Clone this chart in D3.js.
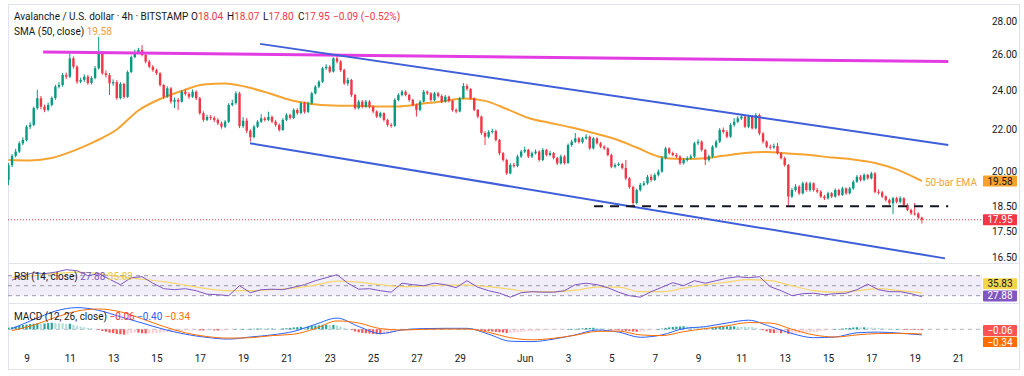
<!DOCTYPE html>
<html>
<head>
<meta charset="utf-8">
<script src="https://cdn.jsdelivr.net/npm/d3@7"></script>
<style>
  body { margin: 0; background: #fff; }
  svg { display: block; font-family: Roboto, "Open Sans", sans-serif; }
</style>
</head>
<body>
<svg id="chart" width="1024" height="376"></svg>
<script>
// ---- data (AVAX/USD, 4h candles, first bar 8 May 04:00 UTC) ----
const opens = [
  19.62,20.29,20.72,20.92,21.31,21.47,22.12,22.21,23.06,23.58,
  23.14,22.97,23.23,23.59,24.20,24.29,24.84,24.75,25.79,25.31,
  24.47,24.57,24.75,24.40,24.68,25.22,26.08,24.94,24.84,24.38,
  24.45,23.59,24.35,23.65,25.01,25.86,26.16,26.28,25.98,25.60,
  25.31,25.12,24.94,24.29,23.66,24.11,23.40,23.49,23.40,23.93,
  23.81,23.66,23.93,23.58,22.80,22.46,22.61,22.56,22.46,22.29,
  22.12,22.37,23.23,23.33,23.84,22.15,22.42,21.92,21.61,22.12,
  22.37,22.54,22.46,22.61,22.37,22.21,21.96,22.46,22.71,22.56,
  22.97,22.81,23.32,22.87,23.32,23.84,24.20,24.47,25.22,25.31,
  25.03,25.79,25.60,25.12,24.38,24.57,23.75,23.06,23.40,23.14,
  23.40,23.14,22.89,22.63,22.80,22.46,22.21,22.17,23.49,23.75,
  23.93,23.75,23.49,23.23,22.97,23.40,23.93,23.84,23.49,23.84,
  23.70,23.40,23.66,23.44,22.97,22.89,23.58,24.24,24.08,23.58,
  22.97,22.63,21.81,21.63,21.86,21.91,21.47,20.84,20.53,19.92,
  20.30,20.25,20.69,20.92,21.00,20.69,20.84,20.92,20.53,21.00,
  20.76,20.85,20.62,20.37,20.69,20.39,21.23,21.39,21.55,21.37,
  21.55,21.63,21.07,21.55,21.31,21.15,21.07,20.76,20.22,20.30,
  20.34,20.16,19.70,19.32,18.64,19.19,19.41,19.48,19.77,19.63,
  19.85,20.00,20.61,21.07,20.85,20.76,20.69,20.38,20.53,20.61,
  20.69,21.31,21.39,21.00,20.53,20.69,21.15,21.39,21.96,21.86,
  21.63,22.21,22.37,22.54,22.63,22.12,22.63,22.04,22.71,21.79,
  21.39,21.15,21.11,21.18,20.84,20.61,20.30,18.91,19.19,19.34,
  19.05,19.48,19.19,19.48,19.19,19.12,18.91,18.84,19.05,18.91,
  19.19,18.98,19.26,19.05,19.26,19.55,19.77,19.63,19.85,19.70,
  19.92,19.11,19.09,18.91,18.77,18.63,18.84,18.69,18.84,18.56,
  18.35,18.21,18.20,18.04
];
const highs = [
  20.38,20.80,21.05,21.40,21.60,22.20,22.35,23.15,24.03,23.70,
  23.25,23.35,23.68,24.30,24.45,24.95,24.98,26.08,25.90,25.40,
  24.70,24.88,24.85,24.78,25.35,27.07,26.20,25.10,24.95,24.60,
  24.55,24.45,24.42,25.10,25.95,26.30,26.40,26.57,26.05,25.70,
  25.40,25.20,25.00,24.35,24.22,24.18,23.62,23.60,24.02,24.05,
  23.90,24.05,24.00,23.65,22.90,22.72,22.70,22.65,22.55,22.38,
  22.45,23.32,23.50,23.95,23.92,22.60,22.55,22.00,22.20,22.45,
  22.75,22.62,22.88,22.68,22.45,22.28,22.55,22.80,22.78,23.05,
  23.05,23.40,23.40,23.40,23.92,24.28,24.55,25.30,25.45,25.40,
  25.85,25.93,25.68,25.20,24.70,24.62,23.82,23.50,23.48,23.50,
  23.48,23.20,22.95,22.88,22.85,22.52,22.30,23.58,23.85,24.02,
  24.00,23.82,23.55,23.30,23.48,24.02,24.00,23.90,23.92,23.92,
  23.78,23.75,23.72,23.50,23.05,23.65,24.40,24.35,24.12,23.62,
  23.02,22.68,21.90,21.95,22.02,21.98,21.52,20.90,20.58,20.38,
  20.40,20.78,21.00,21.15,21.05,20.92,21.02,20.98,21.08,21.05,
  20.95,20.90,20.68,20.78,20.75,21.30,21.48,21.81,21.62,21.62,
  21.75,21.68,21.62,21.60,21.38,21.22,21.12,20.82,20.38,20.42,
  20.40,20.53,19.75,19.38,19.25,19.50,19.58,19.85,19.88,19.92,
  20.10,20.70,21.15,21.12,20.92,20.85,20.75,20.62,20.70,20.78,
  21.38,21.50,21.45,21.05,20.78,21.22,21.48,22.05,22.08,21.95,
  22.30,22.55,22.65,22.75,22.70,22.72,22.70,22.81,22.78,21.85,
  21.45,21.25,21.30,21.33,20.90,20.68,20.35,19.28,19.45,19.40,
  19.55,19.55,19.55,19.52,19.28,19.18,18.98,19.12,19.10,19.26,
  19.24,19.33,19.30,19.33,19.62,19.85,19.85,19.92,19.90,19.99,
  19.98,19.22,19.15,18.96,18.82,18.90,18.90,18.92,18.88,18.62,
  18.40,18.64,18.26,18.07
];
const lows = [
  19.40,20.20,20.65,20.85,21.22,21.40,22.00,22.15,22.98,23.00,
  22.85,22.90,23.15,23.50,24.10,24.20,24.62,24.68,25.20,24.35,
  24.38,24.45,24.30,24.32,24.60,25.15,24.85,24.70,23.75,24.25,
  23.50,23.52,23.55,23.60,24.95,25.80,26.05,25.90,25.50,25.22,
  25.02,24.85,24.20,23.55,23.60,23.30,23.07,22.97,23.35,23.72,
  23.55,23.60,23.48,22.72,22.37,22.40,22.45,22.35,22.20,22.02,
  22.05,22.30,23.15,23.25,22.05,22.05,21.80,21.39,21.55,22.05,
  22.30,22.38,22.40,22.30,22.12,21.88,21.92,22.40,22.48,22.50,
  22.72,22.75,22.78,22.82,23.25,23.78,24.12,24.40,25.12,24.95,
  24.98,25.50,25.02,24.30,24.25,23.65,22.98,23.00,23.05,23.08,
  23.05,22.80,22.55,22.55,22.38,22.12,22.07,22.10,23.42,23.68,
  23.68,23.40,23.15,22.63,22.90,23.35,23.75,23.40,23.42,23.62,
  23.32,23.35,23.35,22.88,22.80,22.85,23.52,23.98,23.50,22.90,
  22.55,21.72,21.23,21.55,21.78,21.40,20.75,20.45,19.85,19.88,
  20.18,20.20,20.62,20.85,20.62,20.62,20.78,20.45,20.48,20.70,
  20.70,20.55,20.30,20.32,20.32,20.35,21.15,21.32,21.30,21.30,
  21.48,21.00,21.02,21.25,21.08,21.00,20.70,20.15,20.15,20.25,
  20.10,19.62,19.25,18.52,18.58,19.12,19.35,19.42,19.55,19.58,
  19.78,19.95,20.55,20.78,20.70,20.62,20.30,20.32,20.45,20.55,
  20.62,21.22,20.92,20.30,20.45,20.62,21.08,21.32,21.78,21.55,
  21.58,22.12,22.30,22.45,22.05,22.05,21.98,21.98,21.70,21.30,
  21.08,21.02,21.05,20.78,20.55,20.22,18.49,18.85,19.12,18.98,
  19.00,19.12,19.12,19.12,19.05,18.85,18.76,18.78,18.85,18.86,
  18.92,18.94,18.98,19.00,19.20,19.50,19.56,19.58,19.64,19.65,
  19.05,19.00,18.85,18.70,18.55,18.18,18.62,18.62,18.50,18.30,
  18.15,18.12,17.98,17.80
];
const closes = [
  20.29,20.72,20.92,21.31,21.47,22.12,22.21,23.06,23.58,23.14,
  22.97,23.23,23.59,24.20,24.29,24.84,24.75,25.79,25.31,24.47,
  24.57,24.75,24.40,24.68,25.22,26.08,24.94,24.84,24.38,24.45,
  23.59,24.35,23.65,25.01,25.86,26.16,26.28,25.98,25.60,25.31,
  25.12,24.94,24.29,23.66,24.11,23.40,23.49,23.40,23.93,23.81,
  23.66,23.93,23.58,22.80,22.46,22.61,22.56,22.46,22.29,22.12,
  22.37,23.23,23.33,23.84,22.15,22.42,21.92,21.61,22.12,22.37,
  22.54,22.46,22.61,22.37,22.21,21.96,22.46,22.71,22.56,22.97,
  22.81,23.32,22.87,23.32,23.84,24.20,24.47,25.22,25.31,25.03,
  25.79,25.60,25.12,24.38,24.57,23.75,23.06,23.40,23.14,23.40,
  23.14,22.89,22.63,22.80,22.46,22.21,22.17,23.49,23.75,23.93,
  23.75,23.49,23.23,22.97,23.40,23.93,23.84,23.49,23.84,23.70,
  23.40,23.66,23.44,22.97,22.89,23.58,24.24,24.08,23.58,22.97,
  22.63,21.81,21.63,21.86,21.91,21.47,20.84,20.53,19.92,20.30,
  20.25,20.69,20.92,21.00,20.69,20.84,20.92,20.53,21.00,20.76,
  20.85,20.62,20.37,20.69,20.39,21.23,21.39,21.55,21.37,21.55,
  21.63,21.07,21.55,21.31,21.15,21.07,20.76,20.22,20.30,20.34,
  20.16,19.70,19.32,18.64,19.19,19.41,19.48,19.77,19.63,19.85,
  20.00,20.61,21.07,20.85,20.76,20.69,20.38,20.53,20.61,20.69,
  21.31,21.39,21.00,20.53,20.69,21.15,21.39,21.96,21.86,21.63,
  22.21,22.37,22.54,22.63,22.12,22.63,22.04,22.71,21.79,21.39,
  21.15,21.11,21.18,20.84,20.61,20.30,18.91,19.19,19.34,19.05,
  19.48,19.19,19.48,19.19,19.12,18.91,18.84,19.05,18.91,19.19,
  18.98,19.26,19.05,19.26,19.55,19.77,19.63,19.85,19.70,19.92,
  19.11,19.09,18.91,18.77,18.63,18.84,18.69,18.84,18.56,18.35,
  18.21,18.20,18.04,17.95
];

// 50 SMA, read once per day (bar 0, 6, 12 ... 252) plus the last bar
const smaVals = [
  20.53,20.51,20.62,20.95,21.40,21.98,22.94,23.54,23.97,24.32,
  24.38,24.18,23.86,23.49,23.28,23.20,23.18,23.15,23.15,23.28,
  23.41,23.57,23.44,23.02,22.56,22.31,22.08,21.81,21.52,21.11,
  20.69,20.57,20.60,20.72,20.85,20.90,20.83,20.76,20.64,20.55,
  20.39,20.10,19.66,19.58
];
const smaBars = d3.range(0, 253, 6).concat([253]);

// RSI(14) every 3 bars (bar 1, 4, 7 ... 253), its MA every 6 bars (bar 1, 7 ... 253)
const rsiVals = [
  61,70,76,74,77,82,80,70,74,63, 52,66,68,55,44,42,44,40,33,32,
  30,50,36,42,43,42,47,52,60,66, 72,55,43,44,40,37,55,52,50,55,
  52,46,60,47,40,35,27,36,38,37, 37,40,52,55,52,46,37,30,27,38,
  47,56,50,60,55,60,65,68,66,68, 48,40,30,34,35,32,34,35,42,53,
  42,38,38,34,27.88
];
const rsiMaVals = [
  66,70,74,77,74,68,63,58,51,44, 40,40,42,45,51,59,57,52,48,49,
  51,51,48,43,38,38,41,47,47,38, 38,45,52,57,62,60,50,40,37,40,
  44,40,35.83
];

// MACD(12,26,9): lines every 6 bars (bar 1, 7 ... 253), histogram every bar
const macdVals = [
  0.05,0.70,1.30,1.55,1.35,0.90,0.45,0.00,-0.35,-0.58,
  -0.70,-0.55,-0.40,-0.15,0.35,0.80,0.20,-0.30,-0.05,0.05,
  0.07,0.07,-0.35,-0.85,-0.88,-0.70,-0.40,-0.05,-0.20,-0.57,
  -0.40,0.05,0.19,0.45,0.65,0.20,-0.30,-0.60,-0.55,-0.25,
  -0.20,-0.28,-0.40
];
const signalVals = [
  -0.10,0.30,0.85,1.30,1.45,1.25,0.75,0.20,-0.25,-0.52,
  -0.63,-0.60,-0.45,-0.35,0.05,0.60,0.45,0.05,-0.05,0.00,
  0.02,0.02,-0.22,-0.60,-0.75,-0.64,-0.42,-0.15,-0.13,-0.40,
  -0.45,-0.17,0.05,0.25,0.48,0.45,0.00,-0.40,-0.55,-0.40,
  -0.30,-0.29,-0.34
];
const histVals = [
  0.12,0.15,0.20,0.25,0.30,0.34,0.37,
  0.40,0.42,0.40,0.41,0.44,0.46, 0.45,0.43,0.42,0.38,0.40,0.33,
  0.25,0.20,0.15,0.10,0.08,0.03, -0.05,-0.12,-0.17,-0.24,-0.27,-0.33,
  -0.35,-0.38,-0.36,-0.28,-0.22,-0.24, -0.28,-0.30,-0.30,-0.28,-0.27,-0.25,
  -0.22,-0.20,-0.19,-0.17,-0.14,-0.11, -0.10,-0.09,-0.07,-0.07,-0.08,-0.09,
  -0.07,-0.07,-0.08,-0.09,-0.09,-0.08, -0.04,-0.01,0.03,0.00,0.01,0.00,
  0.03,0.04,0.05,0.05,0.04,0.05, 0.05,0.04,0.03,0.06,0.08,0.10,
  0.13,0.15,0.18,0.17,0.20,0.23, 0.27,0.28,0.32,0.33,0.30,0.32,
  0.28,0.20,0.10,0.03,-0.06,-0.15, -0.22,-0.25,-0.28,-0.30,-0.33,-0.35,
  -0.36,-0.35,-0.33,-0.30,-0.18,-0.08, -0.02,0.02,0.03,0.04,0.03,0.05,
  0.06,0.06,0.05,0.06,0.05,0.05, 0.05,0.04,0.02,0.01,0.03,0.06,
  0.05,0.02,-0.03,-0.06,-0.09,-0.12, -0.14,-0.16,-0.18,-0.21,-0.23,-0.26,
  -0.25,-0.24,-0.21,-0.18,-0.16,-0.14, -0.13,-0.12,-0.11,-0.09,-0.08,-0.07,
  -0.06,-0.05,-0.04,-0.02,0.01,0.02, 0.03,0.05,0.07,0.09,0.10,0.11,
  0.10,0.08,0.06,0.03,-0.01,-0.04, -0.07,-0.09,-0.11,-0.13,-0.16,-0.18,
  -0.17,-0.14,-0.10,-0.06,-0.03,0.01, 0.05,0.10,0.14,0.17,0.19,0.20,
  0.22,0.21,0.19,0.18,0.17,0.15, 0.14,0.13,0.14,0.16,0.18,0.19,
  0.20,0.21,0.21,0.20,0.19,0.18, 0.17,0.15,0.10,0.02,-0.06,-0.15,
  -0.25,-0.27,-0.27,-0.28,-0.28,-0.32, -0.30,-0.29,-0.27,-0.25,-0.23,-0.21,
  -0.20,-0.17,-0.13,-0.10,-0.06,-0.03, 0.00,0.03,0.05,0.08,0.10,0.13,
  0.15,0.14,0.14,0.13,0.12,0.11, 0.10,0.07,0.05,0.03,0.02,0.02,
  0.01,-0.01,-0.02,-0.03,-0.04,-0.05, -0.06
];

// drawn trend lines: [bar index, price]
const topLine = [[9.6, 26.16], [260.3, 25.60]];
const channelUpper = [[69.7, 26.64], [260.3, 21.23]];
const channelLower = [[66.9, 21.31], [259.4, 16.46]];
const supportLine = [[162.2, 18.5], [260.3, 18.5]];

const priceTicks = [28, 26, 24, 22, 20, 18.5, 17.5, 16.5];
const dayTicks = ["2025-05-09","2025-05-11","2025-05-13","2025-05-15","2025-05-17","2025-05-19",
  "2025-05-21","2025-05-23","2025-05-25","2025-05-27","2025-05-29","2025-06-01","2025-06-03",
  "2025-06-05","2025-06-07","2025-06-09","2025-06-11","2025-06-13","2025-06-15","2025-06-17",
  "2025-06-19","2025-06-21"];

// ---- layout ----
const svg = d3.select("#chart");
const left = 8, right = 982, frameR = 1019;
const mainTop = 4, mainBot = 263, rsiBot = 303, macdBot = 347;
const upC = "#089981", downC = "#f23645", dark = "#131722";

const firstBar = Date.UTC(2025, 4, 8, 4);
const barDate = i => new Date(firstBar + i * 4 * 3600 * 1000);

const x = d3.scaleUtc()
  .domain([new Date(Date.UTC(2025, 4, 9)), new Date(Date.UTC(2025, 5, 21))])
  .range([26.5, 958]);
const y = d3.scaleLog().domain([16.5, 28]).range([257.3, 21.7]);
const yRsi = d3.scaleLinear().domain([30, 70]).range([295.7, 275.7]);
const yMacd = d3.scaleLinear().domain([-1, 1]).range([343.3, 315.3]);

const defs = svg.append("defs");
[["clipMain", mainTop, mainBot], ["clipRsi", mainBot, rsiBot], ["clipMacd", rsiBot, macdBot]]
  .forEach(([id, t, b]) => defs.append("clipPath").attr("id", id)
    .append("rect").attr("x", left).attr("y", t).attr("width", right - left).attr("height", b - t));

// frame and pane separators
svg.append("rect").attr("x", left + 0.5).attr("y", 4.5).attr("width", frameR - left).attr("height", 365)
  .attr("fill", "none").attr("stroke", "#e0e3eb");
[mainBot, rsiBot].forEach(v => svg.append("line")
  .attr("x1", left).attr("x2", frameR).attr("y1", v + 0.5).attr("y2", v + 0.5)
  .attr("stroke", "#e0e3eb"));

// ---- main pane ----
const main = svg.append("g").attr("clip-path", "url(#clipMain)");
const lineP = d3.line().x(d => x(barDate(d[0]))).y(d => y(d[1]));
const lastClose = closes[closes.length - 1];
const lastSma = smaVals[smaVals.length - 1];

// current price dotted line
main.append("line").attr("x1", left).attr("x2", right)
  .attr("y1", y(lastClose)).attr("y2", y(lastClose))
  .attr("stroke", downC).attr("stroke-width", 1).attr("stroke-dasharray", "1,2");

// SMA
main.append("path")
  .datum(smaBars.map((b, k) => [b, smaVals[k]]))
  .attr("d", d3.line().x(d => x(barDate(d[0]))).y(d => y(d[1])).curve(d3.curveMonotoneX))
  .attr("fill", "none").attr("stroke", "#f5a432").attr("stroke-width", 2);

// candles
const candles = main.append("g").selectAll("g").data(closes).join("g");
candles.append("line")
  .attr("x1", (c, i) => x(barDate(i))).attr("x2", (c, i) => x(barDate(i)))
  .attr("y1", (c, i) => y(highs[i])).attr("y2", (c, i) => y(lows[i]))
  .attr("stroke", (c, i) => c >= opens[i] ? upC : downC).attr("stroke-width", 1);
candles.append("rect")
  .attr("x", (c, i) => x(barDate(i)) - 1.2).attr("width", 2.4)
  .attr("y", (c, i) => y(Math.max(c, opens[i])))
  .attr("height", (c, i) => Math.max(1, y(Math.min(c, opens[i])) - y(Math.max(c, opens[i]))))
  .attr("fill", (c, i) => c >= opens[i] ? upC : downC);

// trend lines
main.append("path").datum(topLine).attr("d", lineP)
  .attr("stroke", "#e23ce2").attr("stroke-width", 3).attr("fill", "none");
[channelUpper, channelLower].forEach(l => main.append("path").datum(l).attr("d", lineP)
  .attr("stroke", "#3f5fd8").attr("stroke-width", 2).attr("fill", "none"));
main.append("path").datum(supportLine).attr("d", lineP)
  .attr("stroke", dark).attr("stroke-width", 2).attr("stroke-dasharray", "9,7").attr("fill", "none");

main.append("text").attr("x", 925).attr("y", 186).attr("font-size", 10)
  .attr("fill", "#f0a43a").text("50-bar EMA");

// price axis
const yAxis = svg.append("g").attr("transform", "translate(989,0)")
  .call(d3.axisRight(y).tickValues(priceTicks).tickFormat(d3.format(".2f")).tickSize(0));
yAxis.select(".domain").remove();
yAxis.selectAll("text").attr("font-size", 10).attr("fill", dark).attr("font-family", "Roboto");

// ---- RSI pane ----
const rsi = svg.append("g").attr("clip-path", "url(#clipRsi)");
rsi.append("rect").attr("x", left).attr("width", right - left)
  .attr("y", yRsi(70)).attr("height", yRsi(30) - yRsi(70))
  .attr("fill", "#7e57c2").attr("fill-opacity", 0.1);
[70, 50, 30].forEach(v => rsi.append("line").attr("x1", left).attr("x2", right)
  .attr("y1", yRsi(v)).attr("y2", yRsi(v))
  .attr("stroke", "#9598a1").attr("stroke-dasharray", "4,4"));
rsi.append("path")
  .datum(rsiMaVals.map((v, k) => [1 + 6 * k, v]))
  .attr("d", d3.line().x(d => x(barDate(d[0]))).y(d => yRsi(d[1])).curve(d3.curveMonotoneX))
  .attr("fill", "none").attr("stroke", "#f5d76e").attr("stroke-width", 1.2);
rsi.append("path")
  .datum(rsiVals.map((v, k) => [1 + 3 * k, v]))
  .attr("d", d3.line().x(d => x(barDate(d[0]))).y(d => yRsi(d[1])))
  .attr("fill", "none").attr("stroke", "#7e57c2").attr("stroke-width", 1);

// ---- MACD pane ----
const macd = svg.append("g").attr("clip-path", "url(#clipMacd)");
macd.append("line").attr("x1", left).attr("x2", right).attr("y1", yMacd(0)).attr("y2", yMacd(0))
  .attr("stroke", "#b2b5be").attr("stroke-dasharray", "4,4");
macd.append("g").selectAll("rect").data(histVals).join("rect")
  .attr("x", (v, i) => x(barDate(i)) - 1.1).attr("width", 2.2)
  .attr("y", v => Math.min(yMacd(v), yMacd(0)))
  .attr("height", v => Math.max(0.6, Math.abs(yMacd(v) - yMacd(0))))
  .attr("fill", (v, i) => {
    const prev = i > 0 ? histVals[i - 1] : v;
    if (v >= 0) return v >= prev ? "#26a69a" : "#b2dfdb";
    return v < prev ? "#ff5252" : "#ffcdd2";
  });
const macdLine = d3.line().x(d => x(barDate(d[0]))).y(d => yMacd(d[1])).curve(d3.curveMonotoneX);
macd.append("path").datum(macdVals.map((v, k) => [1 + 6 * k, v])).attr("d", macdLine)
  .attr("fill", "none").attr("stroke", "#2962ff").attr("stroke-width", 1);
macd.append("path").datum(signalVals.map((v, k) => [1 + 6 * k, v])).attr("d", macdLine)
  .attr("fill", "none").attr("stroke", "#ff6d00").attr("stroke-width", 1);

// ---- time axis ----
const xAxis = svg.append("g").attr("transform", "translate(0,352)")
  .call(d3.axisBottom(x).tickValues(dayTicks.map(d => new Date(d + "T00:00:00Z")))
    .tickFormat(d => d.getUTCDate() === 1 ? d3.utcFormat("%b")(d) : d.getUTCDate()).tickSize(0));
xAxis.select(".domain").remove();
xAxis.selectAll("text").attr("font-size", 10).attr("fill", dark).attr("font-family", "Roboto");

// ---- value boxes on the right ----
const fmt = v => (v < 0 ? "\u2212" : "") + Math.abs(v).toFixed(2);
function valueBox(cy, label, bg, fg) {
  svg.append("rect").attr("x", 983).attr("y", cy - 5.5).attr("width", 34).attr("height", 11)
    .attr("rx", 1).attr("fill", bg);
  svg.append("text").attr("x", 1000).attr("y", cy + 3.5).attr("text-anchor", "middle")
    .attr("font-size", 10).attr("fill", fg).text(label);
}
valueBox(y(lastSma), fmt(lastSma), "#f7a128", dark);
valueBox(y(lastClose), fmt(lastClose), downC, "#fff");
valueBox(283.8, fmt(rsiMaVals[rsiMaVals.length - 1]), "#f5d54a", dark);
valueBox(295.9, fmt(rsiVals[rsiVals.length - 1]), "#7e57c2", "#fff");
valueBox(330.5, fmt(histVals[histVals.length - 1]), "#ff5252", "#fff");
valueBox(342.3, fmt(signalVals[signalVals.length - 1]), "#ff6d00", "#fff");
// the signal box is cut at the bottom of the MACD pane
svg.append("rect").attr("x", 982).attr("y", macdBot).attr("width", 36).attr("height", 6).attr("fill", "#fff");

// ---- legends ----
function legend(xp, yp, parts) {
  const t = svg.append("text").attr("x", xp).attr("y", yp).attr("font-size", 10);
  parts.forEach(([s, c]) => t.append("tspan").attr("fill", c).text(s));
}
legend(14, 19.5, [["Avalanche / U.S. dollar \u00b7 4h \u00b7 BITSTAMP", dark]]);
legend(191, 19.5, [["O", dark], [fmt(opens[opens.length - 1]), downC]]);
legend(227, 19.5, [["H", dark], [fmt(highs[highs.length - 1]), downC]]);
legend(263, 19.5, [["L", dark], [fmt(lows[lows.length - 1]), downC]]);
legend(298, 19.5, [["C", dark], [fmt(lastClose), downC]]);
legend(333, 19.5, [["\u22120.09 (\u22120.52%)", downC]]);
legend(14, 35, [["SMA (50, close)  ", dark], [fmt(lastSma), "#f0a030"]]);
legend(14, 280, [["RSI (14, close)  ", dark], [fmt(rsiVals[rsiVals.length - 1]) + "  ", "#7e57c2"],
  [fmt(rsiMaVals[rsiMaVals.length - 1]), "#e8c93a"]]);
legend(14, 319.5, [["MACD (12, 26, close)  ", dark], [fmt(histVals[histVals.length - 1]) + "  ", "#f23645"],
  [fmt(macdVals[macdVals.length - 1]) + "  ", "#2962ff"], [fmt(signalVals[signalVals.length - 1]), "#ff6d00"]]);
</script>
</body>
</html>
